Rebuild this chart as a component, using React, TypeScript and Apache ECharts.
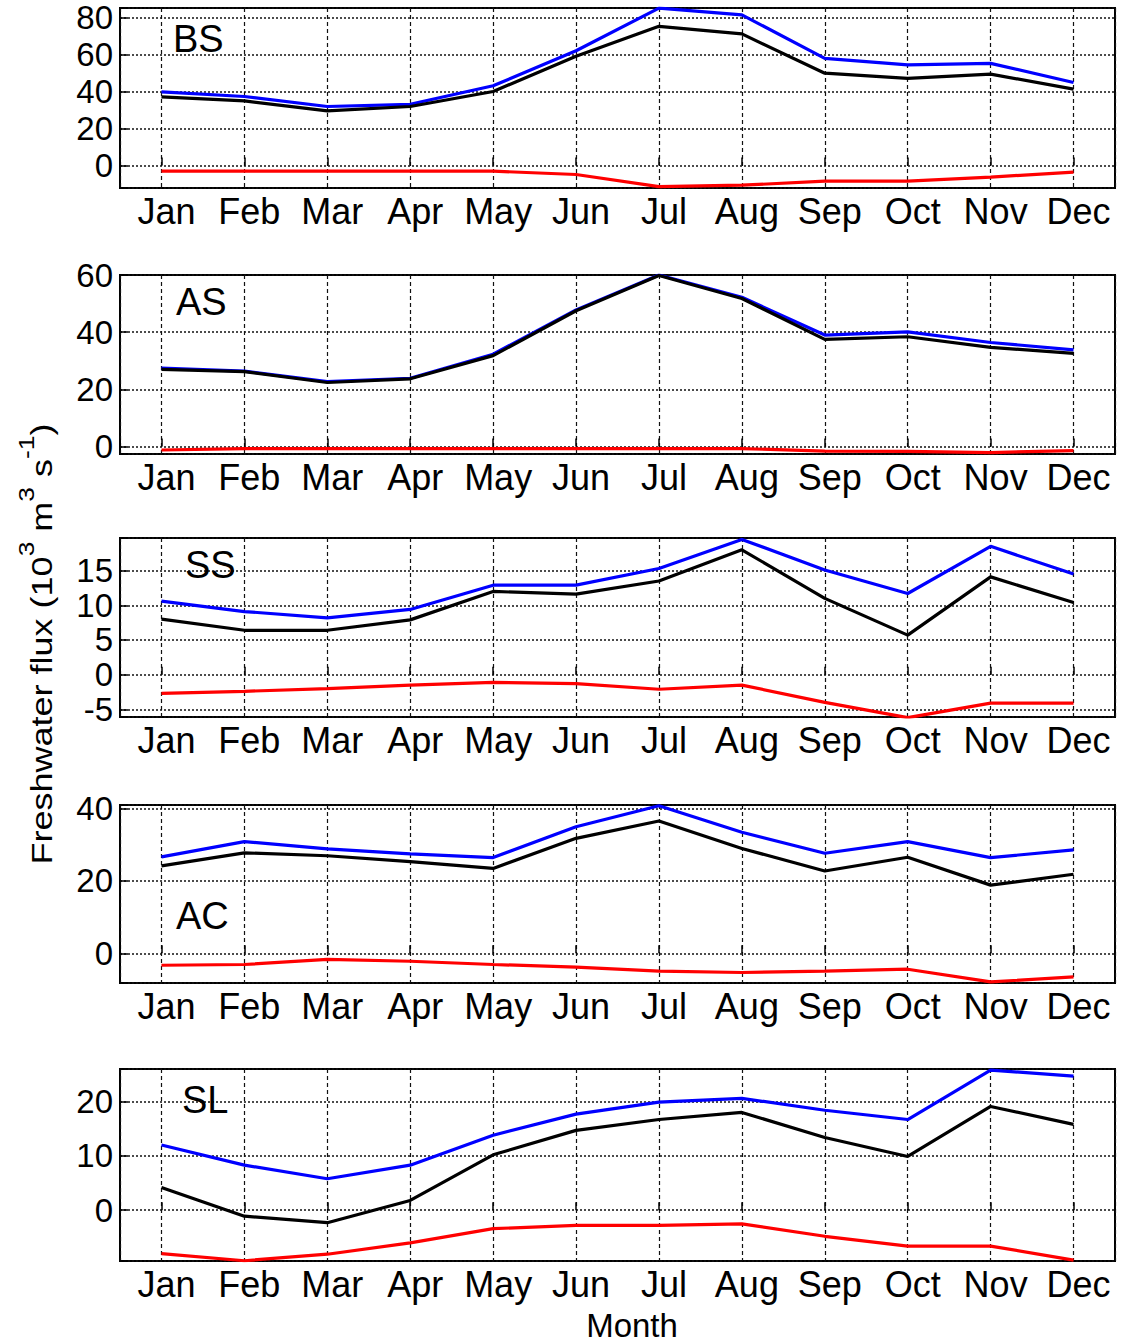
import React, { useEffect, useRef } from 'react';
import * as echarts from 'echarts';

const months = ['Jan', 'Feb', 'Mar', 'Apr', 'May', 'Jun', 'Jul', 'Aug', 'Sep', 'Oct', 'Nov', 'Dec'];
const panelNames = ['BS', 'AS', 'SS', 'AC', 'SL'];

// BS
const bsBlue = [39.7, 37.2, 31.8, 33.0, 43.0, 61.9, 84.9, 81.3, 57.8, 54.3, 55.1, 44.8];
const bsBlack = [37.0, 34.8, 29.4, 31.8, 39.9, 58.9, 75.1, 71.0, 49.8, 47.0, 49.3, 41.2];
const bsRed = [-3.1, -3.1, -3.1, -3.1, -3.1, -4.9, -11.5, -10.7, -8.5, -8.5, -6.3, -3.6];
// AS
const asBlue = [27.4, 26.4, 22.7, 23.9, 32.3, 47.8, 60.0, 52.2, 39.0, 40.1, 36.4, 33.8];
const asBlack = [27.0, 26.2, 22.4, 23.7, 31.8, 47.5, 59.8, 51.8, 37.5, 38.4, 34.7, 32.6];
const asRed = [-1.2, -0.7, -0.7, -0.7, -0.7, -0.7, -0.7, -0.7, -1.6, -1.7, -2.1, -1.4];
// SS
const ssBlue = [10.6, 9.1, 8.2, 9.4, 12.9, 12.9, 15.3, 19.5, 15.1, 11.7, 18.5, 14.5];
const ssBlack = [8.0, 6.4, 6.4, 7.9, 12.0, 11.6, 13.5, 18.0, 11.0, 5.7, 14.1, 10.4];
const ssRed = [-2.7, -2.4, -2.0, -1.5, -1.1, -1.3, -2.1, -1.5, -4.0, -6.2, -4.1, -4.1];
// AC
const acBlue = [26.6, 30.8, 28.8, 27.4, 26.4, 34.9, 40.7, 33.4, 27.6, 30.8, 26.4, 28.5];
const acBlack = [24.1, 27.7, 26.9, 25.3, 23.4, 31.7, 36.5, 28.9, 22.7, 26.5, 18.8, 21.8];
const acRed = [-3.3, -3.1, -1.7, -2.2, -3.1, -3.8, -4.9, -5.3, -4.9, -4.4, -7.9, -6.5];
// SL
const slBlue = [12.0, 8.3, 5.8, 8.3, 13.8, 17.7, 19.9, 20.6, 18.4, 16.7, 25.8, 24.7];
const slBlack = [4.2, -1.1, -2.3, 1.8, 10.2, 14.7, 16.7, 18.0, 13.4, 9.9, 19.1, 15.8];
const slRed = [-8.0, -9.3, -8.1, -6.0, -3.4, -2.8, -2.8, -2.5, -4.8, -6.6, -6.6, -9.2];

const blueSeries = [bsBlue, asBlue, ssBlue, acBlue, slBlue];
const blackSeries = [bsBlack, asBlack, ssBlack, acBlack, slBlack];
const redSeries = [bsRed, asRed, ssRed, acRed, slRed];

// y-axis limits and tick steps
const yMin = [-12.2, -2.6, -6.1, -8.2, -9.35];
const yMax = [85, 60, 19.7, 40.9, 26];
const yStep = [20, 20, 5, 20, 10];

const yTitle = 'Freshwater flux';
const xTitle = 'Month';

const FONT = '"Liberation Sans", Arial, Helvetica, sans-serif';

// layout (pixels)
const GRID_LEFT = 120;
const GRID_WIDTH = 995;
const gridTops = [8, 275, 538, 805, 1069];
const gridHeights = [180, 179, 179, 178, 192];
const labelPos = [
  [173, 38.5],
  [176, 302],
  [185, 565],
  [176, 916],
  [182, 1100],
];

function isMultiple(v: number, step: number) {
  const r = v / step;
  return Math.abs(r - Math.round(r)) < 1e-6;
}

export default function App() {
  const ref = useRef<HTMLDivElement>(null);

  useEffect(() => {
    if (!ref.current) return;
    const chart = echarts.init(ref.current, undefined, { renderer: 'svg' });

    const grids = panelNames.map((_, k) => ({
      left: GRID_LEFT,
      top: gridTops[k],
      width: GRID_WIDTH,
      height: gridHeights[k],
      show: true,
      borderColor: '#000',
      borderWidth: 2,
      backgroundColor: 'rgba(0,0,0,0)',
    }));

    const xAxes = panelNames.map((_, k) => ({
      type: 'value',
      gridIndex: k,
      min: 0.5,
      max: months.length + 0.5,
      minInterval: 1,
      maxInterval: 1,
      axisLine: { show: false },
      axisTick: { show: true, inside: true, length: 8, lineStyle: { color: '#000', width: 1.5 } },
      axisLabel: {
        show: true,
        showMinLabel: true,
        showMaxLabel: true,
        formatter: (v: number) => (Number.isInteger(v) && v >= 1 && v <= months.length ? months[v - 1] : ''),
        fontFamily: FONT,
        fontSize: 36,
        color: '#000',
        margin: 5,
        padding: [0, 0, 0, 10],
      },
      splitLine: { show: true, lineStyle: { color: '#111', type: [4, 3], width: 1.2 } },
    }));

    const yAxes = panelNames.map((_, k) => ({
      type: 'value',
      gridIndex: k,
      min: yMin[k],
      max: yMax[k],
      minInterval: yStep[k],
      maxInterval: yStep[k],
      axisLine: { show: false },
      axisTick: { show: true, inside: true, length: 8, lineStyle: { color: '#000', width: 1.5 } },
      axisLabel: {
        show: true,
        showMinLabel: true,
        showMaxLabel: true,
        formatter: (v: number) => (isMultiple(v, yStep[k]) ? String(Math.round(v)) : ''),
        fontFamily: FONT,
        fontSize: 33,
        color: '#000',
        margin: 7,
      },
      splitLine: { show: true, lineStyle: { color: '#111', type: [2, 2], width: 1.6 } },
    }));

    const mk = (arr: number[], color: string, k: number) => ({
      type: 'line',
      xAxisIndex: k,
      yAxisIndex: k,
      data: arr.map((v, i) => [i + 1, v]),
      symbol: 'none',
      showSymbol: false,
      silent: true,
      clip: true,
      lineStyle: { color, width: 3.2 },
      itemStyle: { color },
    });

    const series: any[] = [];
    panelNames.forEach((_, k) => {
      series.push(mk(blueSeries[k], '#0000ff', k));
      series.push(mk(blackSeries[k], '#000000', k));
      series.push(mk(redSeries[k], '#ff0000', k));
    });

    const graphics: any[] = panelNames.map((name, k) => ({
      type: 'text',
      x: labelPos[k][0],
      y: labelPos[k][1],
      z: 100,
      style: {
        text: name,
        fontSize: 38,
        fontFamily: FONT,
        fill: '#000',
        align: 'left',
        verticalAlign: 'middle',
        textAlign: 'left',
        textVerticalAlign: 'middle',
      },
    }));

    graphics.push({
      type: 'text',
      x: 36,
      y: 644,
      rotation: Math.PI / 2,
      scaleX: 1.2,
      z: 100,
      style: {
        text: `{n|${yTitle} (10}{s|3}{n| m}{s|3}{n| s}{s|-1}{n|)}`,
        fontFamily: FONT,
        fill: '#000',
        align: 'center',
        verticalAlign: 'middle',
        textAlign: 'center',
        textVerticalAlign: 'middle',
        rich: {
          n: { fontSize: 30, fontFamily: FONT, fill: '#000', color: '#000', verticalAlign: 'bottom' },
          s: {
            fontSize: 22,
            fontFamily: FONT,
            fill: '#000',
            color: '#000',
            verticalAlign: 'top',
            padding: [0, 0, 20, 0],
          },
        },
      },
    });

    graphics.push({
      type: 'text',
      x: 632,
      y: 1325,
      z: 100,
      style: {
        text: xTitle,
        fontSize: 33,
        fontFamily: FONT,
        fill: '#000',
        align: 'center',
        verticalAlign: 'middle',
        textAlign: 'center',
        textVerticalAlign: 'middle',
      },
    });

    chart.setOption({
      animation: false,
      backgroundColor: '#fff',
      grid: grids,
      xAxis: xAxes,
      yAxis: yAxes,
      series,
      graphic: graphics,
    });

    return () => {
      chart.dispose();
    };
  }, []);

  return (
    <div
      ref={ref}
      style={{ position: 'absolute', left: 0, top: 0, width: 1123, height: 1343, background: '#fff' }}
    />
  );
}
